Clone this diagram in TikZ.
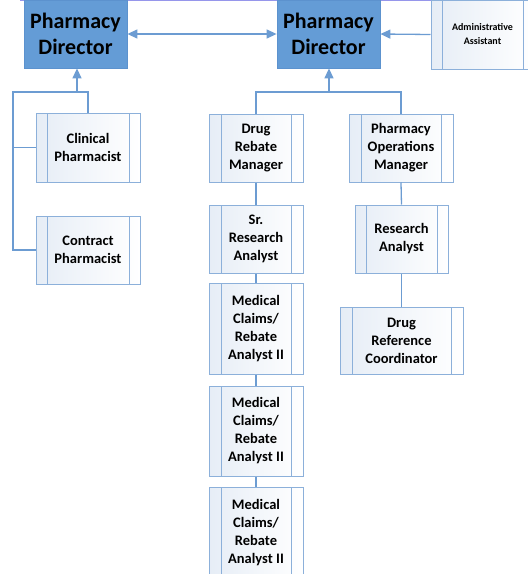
\documentclass[tikz,border=0pt]{standalone}
\usepackage{fontspec}
\setmainfont{Carlito}
\usetikzlibrary{arrows.meta,calc}
\definecolor{dirfill}{RGB}{100,156,214}
\definecolor{dirdraw}{RGB}{92,146,206}
\definecolor{linec}{RGB}{108,156,210}
\definecolor{boxdraw}{RGB}{140,176,218}
\definecolor{boxfillA}{RGB}{230,237,246}
\definecolor{topline}{RGB}{150,150,235}
\tikzset{
  x=1pt,y=1pt,
  dirbox/.style={draw=dirdraw,fill=dirfill,line width=0.8pt,minimum width=103pt,minimum height=68pt,
    align=center,font=\fontsize{22}{26}\selectfont\bfseries,inner sep=0pt},
  orgbox/.style={draw=boxdraw,line width=1pt,left color=boxfillA,right color=white,
    align=center,font=\fontsize{14.5}{18}\selectfont\bfseries,inner sep=0pt,
    path picture={
      \draw[boxdraw,line width=1pt] ([xshift=#1]path picture bounding box.north west) -- ([xshift=#1]path picture bounding box.south west);
      \draw[boxdraw,line width=1pt] ([xshift=-#1]path picture bounding box.north east) -- ([xshift=-#1]path picture bounding box.south east);
    }},
  orgbox/.default=11pt,
  conn/.style={draw=linec,line width=1.3pt},
  arr/.style={conn,-{Triangle[length=10pt,width=9pt]}},
  darr/.style={conn,{Triangle[length=10pt,width=9pt]}-{Triangle[length=10pt,width=9pt]}},
}
\begin{document}
\begin{tikzpicture}
\useasboundingbox (0,0) rectangle (528,-574);
\clip (0,0) rectangle (528,-574);
\fill[white] (0,0) rectangle (528,-574);
\draw[topline,line width=1pt] (20,-0.7) -- (473,-0.7);
% directors
\node[dirbox] (d1) at (75.5,-34) {Pharmacy\\Director};
\node[dirbox] (d2) at (328.5,-34) {Pharmacy\\Director};
\node[orgbox,minimum width=103pt,minimum height=69pt,font=\fontsize{10}{14}\selectfont\bfseries] (adm) at (482.5,-34.5) {Administrative\\Assistant};
% left
\node[orgbox,minimum width=104pt,minimum height=69pt] (clin) at (88,-147.5) {Clinical\\Pharmacist};
\node[orgbox,minimum width=104pt,minimum height=68pt] (ctr) at (88,-250) {Contract\\Pharmacist};
% middle column
\node[orgbox=12pt,minimum width=94pt,minimum height=68pt] (drm) at (256,-148) {Drug\\Rebate\\Manager};
\node[orgbox=12pt,minimum width=94pt,minimum height=68pt] (sra) at (256,-239) {Sr.\\Research\\Analyst};
\node[orgbox=12pt,minimum width=94pt,minimum height=91pt] (mc1) at (256,-328.5) {Medical\\Claims/\\Rebate\\Analyst II};
\node[orgbox=12pt,minimum width=94pt,minimum height=90pt] (mc2) at (256,-431) {Medical\\Claims/\\Rebate\\Analyst II};
\node[orgbox=12pt,minimum width=94pt,minimum height=91pt] (mc3) at (256,-532.5) {Medical\\Claims/\\Rebate\\Analyst II};
% right column
\node[orgbox=12pt,minimum width=104pt,minimum height=68pt] (pom) at (401,-148) {Pharmacy\\Operations\\Manager};
\node[orgbox,minimum width=93pt,minimum height=68pt] (ra) at (401.5,-239) {Research\\Analyst};
\node[orgbox=12pt,minimum width=123pt,minimum height=67pt] (drc) at (401.5,-340.5) {Drug\\Reference\\Coordinator};
% connectors top
\draw[darr] (d1.east) -- (d2.west);
\draw[arr] (adm.west) -- (d2.east);
% left tree
\coordinate (jl) at (13,-92);
\coordinate (j1) at (77,-92);
\draw[conn] (clin.north) |- (jl) |- (ctr.west);
\draw[conn] (jl |- clin.west) -- (clin.west);
\draw[arr] (j1) -- (j1 |- d1.south);
% middle tree
\coordinate (jm) at (329,-92);
\draw[conn] (drm.north) |- (jm) -| (pom.north);
\draw[arr] (jm) -- (jm |- d2.south);
\draw[conn] (drm.south) -- (sra.north);
\draw[conn] (sra.south) -- (mc1.north);
\draw[conn] (mc1.south) -- (mc2.north);
\draw[conn] (mc2.south) -- (mc3.north);
\draw[conn] (pom.south) -- (ra.north);
\draw[conn] (ra.south) -- (drc.north);
\end{tikzpicture}
\end{document}
